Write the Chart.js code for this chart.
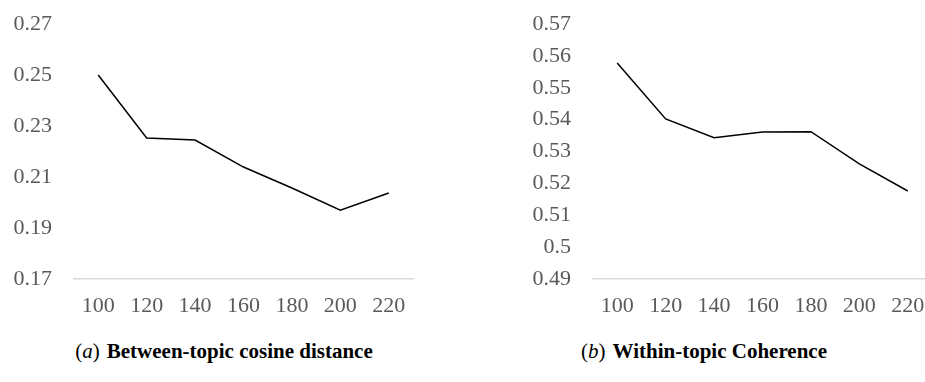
<!DOCTYPE html>
<html>
<head>
<meta charset="utf-8">
<script src="https://cdn.jsdelivr.net/npm/chart.js@4.4.1/dist/chart.umd.min.js"></script>
<style>
    html, body { margin: 0; padding: 0; background: #fff; overflow: hidden; width: 925px; height: 382px; }
    .wrap { position: absolute; top: 0; }
    .cap {
        position: absolute;
        font-family: "Liberation Serif", serif;
        font-size: 21px;
        color: #000;
        white-space: nowrap;
        transform: translateX(-50%);
    }
    .cap i { font-weight: normal; font-style: italic; }
    .cap b { font-weight: bold; margin-left: 7px; }
</style>
</head>
<body>
<div class="wrap" style="left:0px"><canvas id="chartA" width="420" height="330"></canvas></div>
<div class="wrap" style="left:460px"><canvas id="chartB" width="480" height="330"></canvas></div>
<div class="cap" style="left:224px; top:339px">(<i>a</i>)<b>Between-topic cosine distance</b></div>
<div class="cap" style="left:704px; top:339px">(<i>b</i>)<b>Within-topic Coherence</b></div>

<script>
/* ============================================================
   DATA
============================================================ */
const topics = ["100", "120", "140", "160", "180", "200", "220"];

const cosineDistance = [0.250, 0.2253, 0.2245, 0.2139, 0.2057, 0.1970, 0.2037];
const coherence = [0.5578, 0.5402, 0.5343, 0.5361, 0.5362, 0.5261, 0.5176];

const cosineTicks = { min: 0.17, max: 0.27, step: 0.02 };
const coherenceTicks = { min: 0.49, max: 0.57, step: 0.01 };

/* ============================================================
   CHART BUILDER
============================================================ */
const TICK_FONT = { family: "'Liberation Serif', serif", size: 22 };
const TICK_COLOR = "#595959";

function makeChart(id, values, range, yWidth, padRight) {
    return new Chart(document.getElementById(id), {
        type: "line",
        data: {
            labels: topics,
            datasets: [{
                data: values,
                borderColor: "#000",
                borderWidth: 1.5,
                pointRadius: 0,
                tension: 0,
                fill: false
            }]
        },
        options: {
            responsive: false,
            animation: false,
            devicePixelRatio: 1,
            layout: { padding: { top: 24, right: padRight, bottom: 0, left: 0 } },
            plugins: { legend: { display: false }, tooltip: { enabled: false } },
            scales: {
                x: {
                    offset: true,
                    grid: { display: false, drawTicks: false },
                    border: { display: true, color: "#d9d9d9", width: 1.5 },
                    ticks: { color: TICK_COLOR, font: TICK_FONT, padding: 14, maxRotation: 0, autoSkip: false },
                    afterFit: s => { s.height = 51; }
                },
                y: {
                    min: range.min,
                    max: range.max,
                    // invisible tick marks push the labels away from the plot
                    grid: { display: true, drawOnChartArea: false, drawTicks: true, tickLength: 22, tickColor: "rgba(0,0,0,0)" },
                    border: { display: false },
                    ticks: {
                        stepSize: range.step,
                        color: TICK_COLOR,
                        font: TICK_FONT,
                        padding: 0,
                        callback: v => String(Number(v.toFixed(2)))
                    },
                    afterFit: s => { s.width = yWidth; }
                }
            }
        }
    });
}

makeChart("chartA", cosineDistance, cosineTicks, 74, 7);
makeChart("chartB", coherence, coherenceTicks, 133, 8);
</script>
</body>
</html>
